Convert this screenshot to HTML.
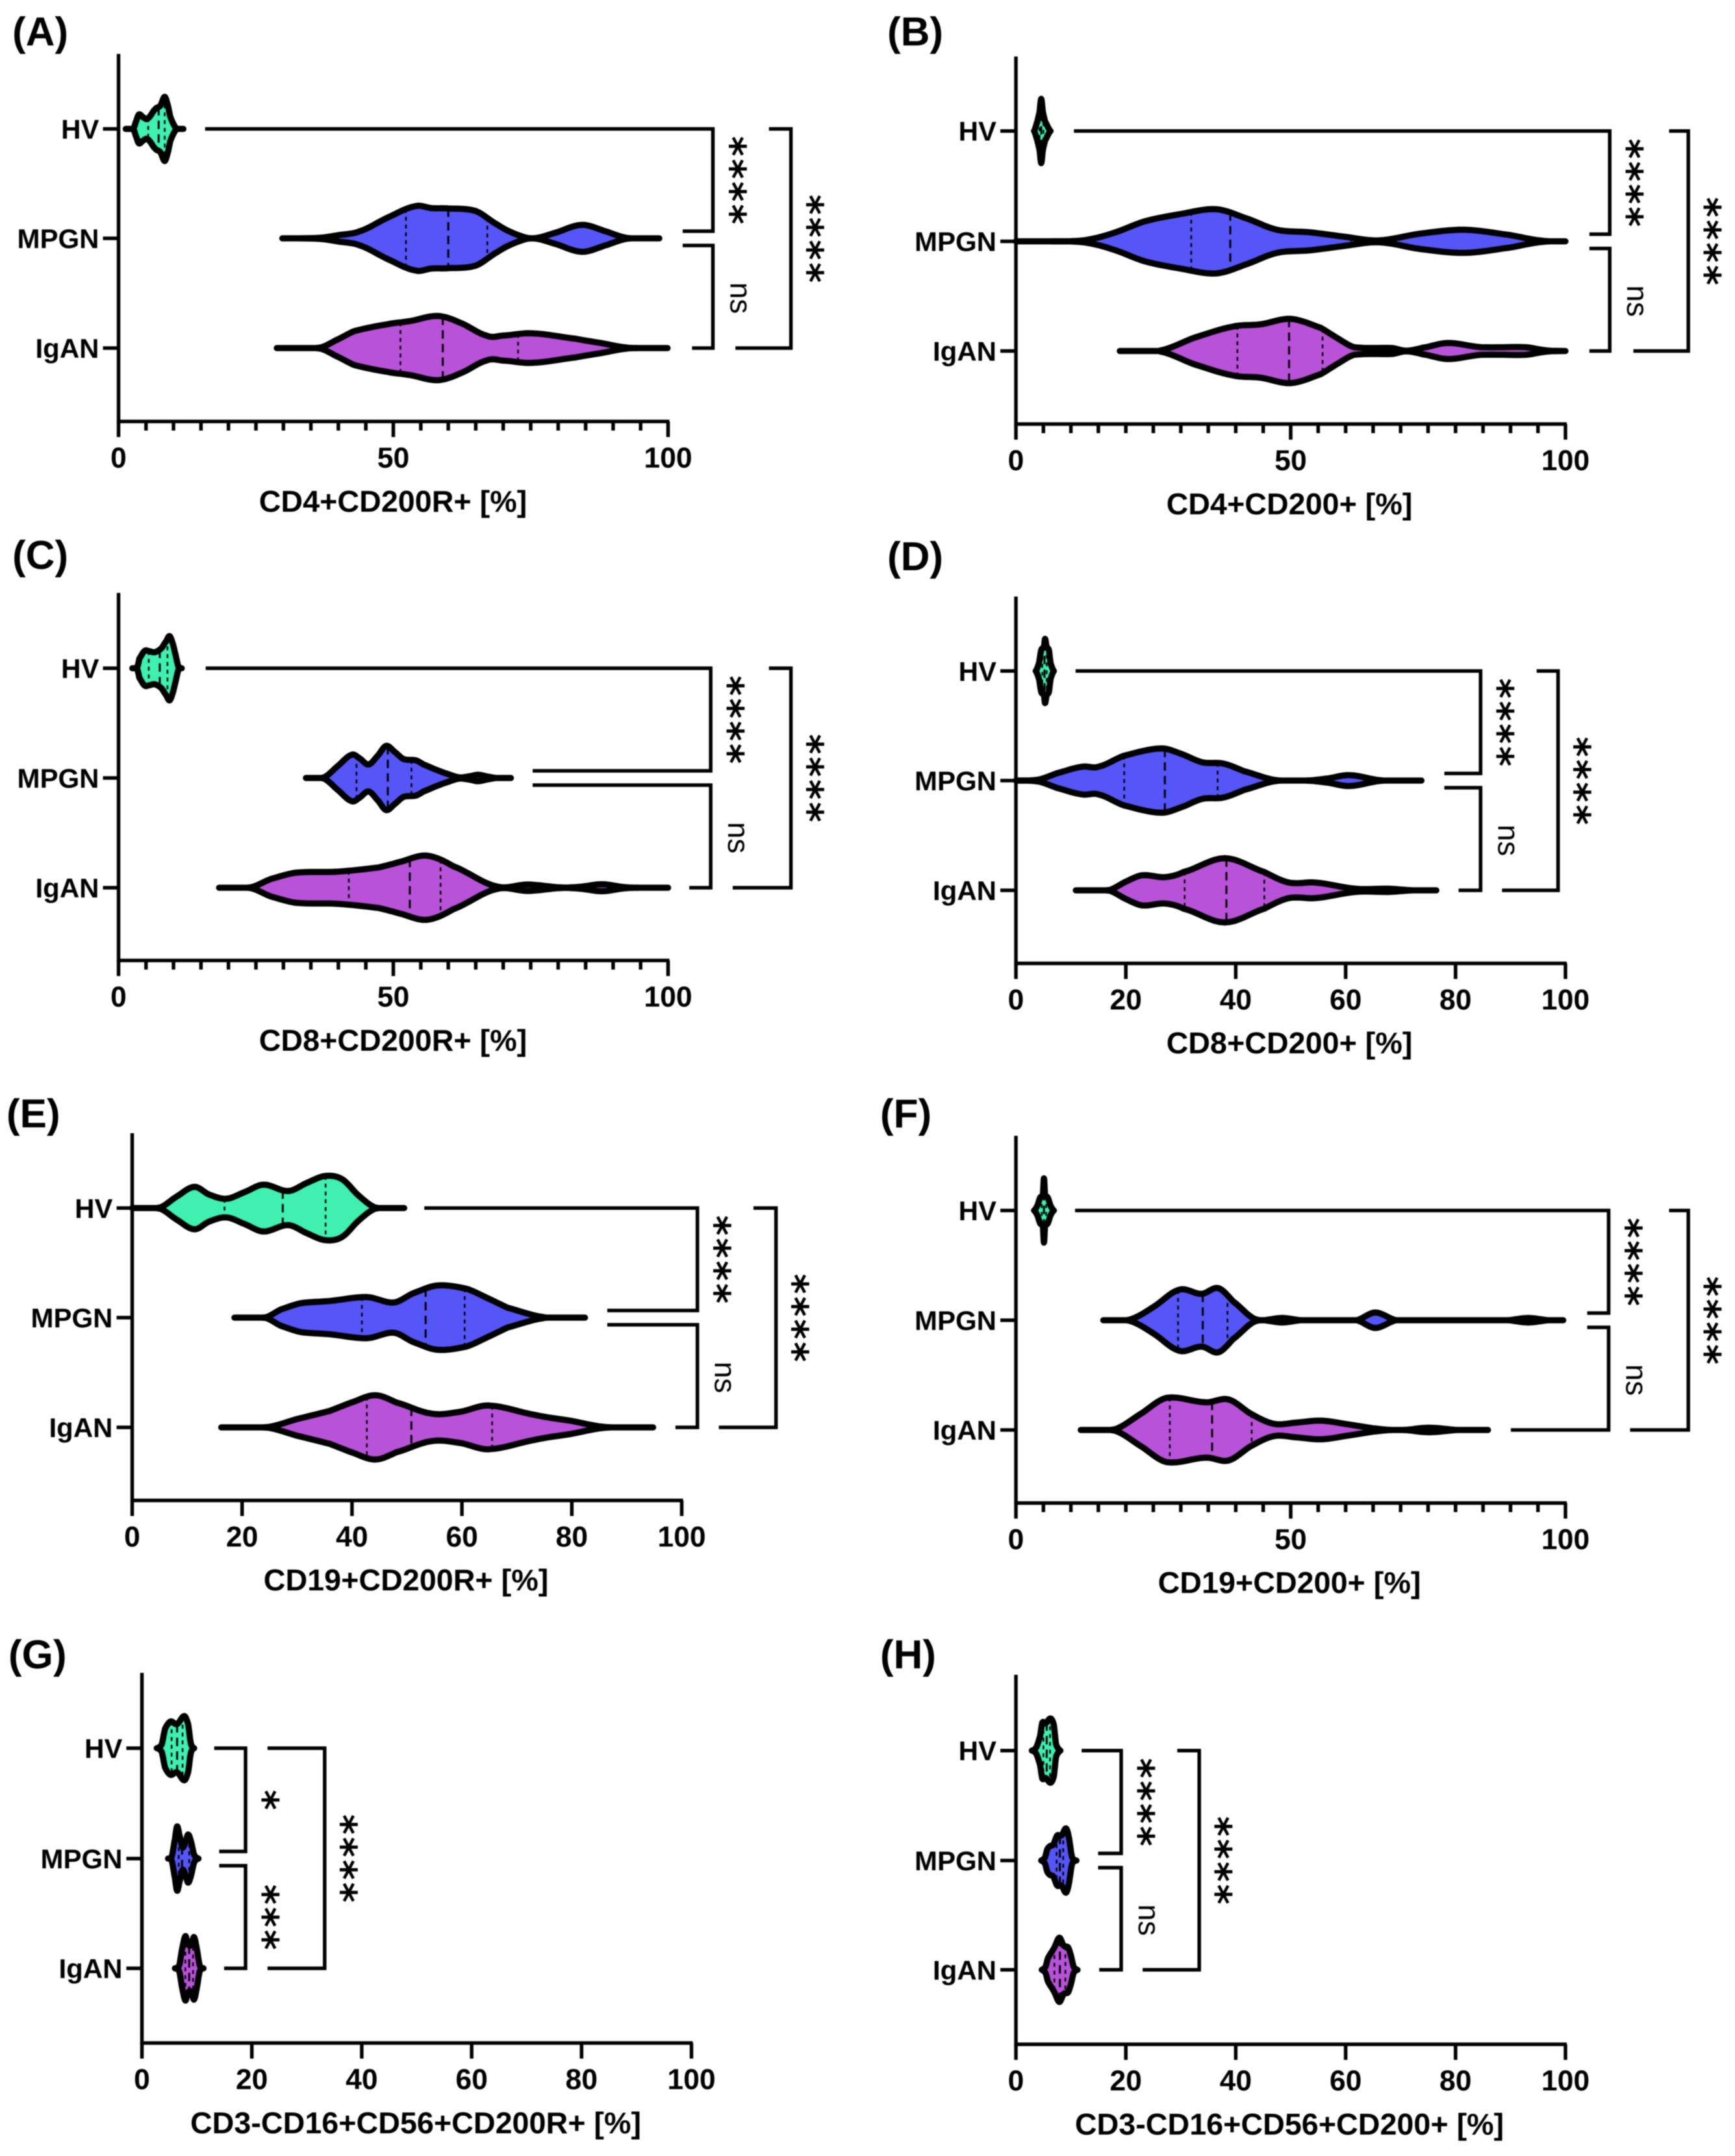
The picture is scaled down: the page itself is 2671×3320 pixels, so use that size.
<!DOCTYPE html>
<html lang="en">
<head>
<meta charset="utf-8">
<title>CD200 and CD200R violin plots</title>
<style>
html,body{margin:0;padding:0;background:#fff}
svg{display:block;filter:blur(0.7px)}
.letter{font:bold 62px "Liberation Sans",sans-serif;fill:#000}
.xtitle{font:bold 46.7px "Liberation Sans",sans-serif;fill:#000;text-anchor:middle}
</style>
</head>
<body>
<svg id="figure" xmlns="http://www.w3.org/2000/svg" width="2671" height="3320" viewBox="0 0 2671 3320">
<rect width="2671" height="3320" fill="#fff"/>
<text class="letter" x="19" y="70">(A)</text>
<text class="letter" x="1366" y="70">(B)</text>
<text class="letter" x="19" y="876">(C)</text>
<text class="letter" x="1366" y="878">(D)</text>
<text class="letter" x="10" y="1736">(E)</text>
<text class="letter" x="1355" y="1736">(F)</text>
<text class="letter" x="13" y="2569">(G)</text>
<text class="letter" x="1355" y="2569">(H)</text>
<text class="xtitle" x="605" y="788">CD4+CD200R+ [%]</text>
<text class="xtitle" x="1985" y="792">CD4+CD200+ [%]</text>
<text class="xtitle" x="605" y="1618">CD8+CD200R+ [%]</text>
<text class="xtitle" x="1985" y="1622">CD8+CD200+ [%]</text>
<text class="xtitle" x="625" y="2449">CD19+CD200R+ [%]</text>
<text class="xtitle" x="1985" y="2453">CD19+CD200+ [%]</text>
<text class="xtitle" x="640" y="3285">CD3-CD16+CD56+CD200R+ [%]</text>
<text class="xtitle" x="1985" y="3287">CD3-CD16+CD56+CD200+ [%]</text>
</svg>
<script>
const categories = ['HV', 'MPGN', 'IgAN'];
const ticksCoarse = [0, 50, 100];
const ticksFine = [0, 20, 40, 60, 80, 100];
const minorTicksCoarse = [5, 10, 15, 20, 25, 30, 35, 40, 45, 55, 60, 65, 70, 75, 80, 85, 90, 95];
const minorTicksNone = [];

const aHvX = [1.3, 2.75, 3.1, 3.7, 4.5, 5.3, 6.7, 7.6, 8.4, 9.0, 9.4, 10.0, 10.6, 11.8];
const aHvD = [0, .02, .2, .45, .36, .32, .62, .72, 1, .72, .39, .15, 0, 0];
const aHvQ = [5.4, 7.3, 8.4];
const aMpgnX = [29.8, 33, 36.8, 40, 43.9, 48.9, 54, 57, 60, 65, 69, 72, 75.2, 79, 84.3, 89, 92.3, 95, 98.4];
const aMpgnD = [0, 0, .02, .1, .22, .64, 1, .94, .93, .85, .42, .15, 0, .15, .42, .2, .02, 0, 0];
const aMpgnQ = [52.3, 60, 67.1];
const aIganX = [28.8, 33, 36.8, 39.5, 42.9, 48.9, 53, 58, 62, 67.1, 70, 75.2, 83.2, 88, 92.3, 95, 99.9];
const aIganD = [0, 0, .02, .24, .53, .74, .84, 1, .8, .38, .39, .46, .29, .15, .02, 0, 0];
const aIganQ = [51.3, 59, 72.7];

const bHvX = [3.3, 3.9, 4.3, 4.6, 4.9, 5.3, 6.3];
const bHvD = [0, .3, .6, 1, .6, .3, 0];
const bHvQ = [4.3, 4.6, 5.0];
const bMpgnX = [0, 6, 12.3, 17.4, 23.4, 30, 36.4, 41.5, 47.5, 53.5, 59.5, 66, 73.6, 81.6, 89.7, 95.7, 100];
const bMpgnD = [0, 0, .03, .24, .62, .85, 1, .74, .36, .28, .15, .03, .24, .36, .2, .02, 0];
const bMpgnQ = [31.9, 39, 61];
const bIganX = [18.9, 23, 26.4, 32.4, 39.5, 44.5, 50, 55.5, 58.5, 61.5, 68.6, 71, 74, 78.6, 84.6, 92.7, 96.5, 100];
const bIganD = [0, 0, .02, .41, .76, .83, 1, .72, .4, .12, .09, .01, .1, .25, .12, .12, .02, 0];
const bIganQ = [40.3, 49.7, 55.8];

const cHvX = [2.5, 3.4, 3.8, 4.75, 5.6, 6.6, 7.8, 8.7, 9.3, 9.9, 10.4, 10.9, 11.5];
const cHvD = [0, .03, .3, .54, .53, .5, .62, .85, 1, .75, .4, .05, 0];
const cHvQ = [5.5, 7.5, 8.9];
const cMpgnX = [34.1, 37.4, 39.8, 42.4, 43.8, 45.5, 47.2, 48.7, 50.2, 51.85, 54.1, 55.5, 57.9, 60, 62, 63.8, 65.4, 67, 68.8, 71.4];
const cMpgnD = [0, .02, .36, .72, .62, .42, .7, 1, .82, .59, .55, .42, .25, .12, .02, .05, .1, .05, 0, 0];
const cMpgnQ = [43.3, 49, 53.3];
const cIganX = [18.3, 24, 27.7, 32.3, 39.8, 47.3, 51.1, 56, 60.9, 68.8, 74.5, 80.5, 84, 88, 92, 94.8, 100];
const cIganD = [0, .01, .27, .47, .5, .63, .8, 1, .67, .04, .1, .01, .03, .11, .02, 0, 0];
const cIganQ = [41.9, 53, 58.6];

const dHvX = [3.6, 4.2, 4.6, 5.1, 5.3, 5.6, 6.0, 6.3, 6.9];
const dHvD = [0, .25, .65, .75, 1, .75, .65, .25, 0];
const dHvQ = [4.8, 5.2, 5.6];
const dMpgnX = [0, 4.1, 7.5, 12, 15, 19.6, 26.4, 30.1, 33.9, 37.7, 41.4, 47.1, 52.7, 56.5, 60.7, 66.3, 70, 73.8];
const dMpgnD = [0, .03, .23, .43, .43, .77, 1, .83, .57, .53, .3, .02, 0, .06, .17, .01, 0, 0];
const dMpgnQ = [19.7, 27.1, 36.7];
const dIganX = [10.9, 17, 20, 23, 27.1, 30.5, 38, 45.2, 49.7, 54.6, 61.8, 67.8, 72.3, 76.5];
const dIganD = [0, .01, .27, .47, .41, .57, 1, .57, .24, .24, .05, .05, 0, 0];
const dIganQ = [30.7, 38.3, 45.2];

const eHvX = [0, 5.1, 8, 11.3, 14, 17.1, 20.5, 23.9, 28.4, 32, 35.2, 38.2, 41.2, 44.2, 49.5];
const eHvD = [0, .02, .35, .66, .42, .29, .5, .73, .53, .8, 1, .9, .39, .02, 0];
const eHvQ = [16.8, 27.4, 35.2];
const eMpgnX = [18.6, 24.3, 27, 30.7, 36, 42.7, 47.6, 51, 55.5, 60.8, 64.5, 68.3, 74.7, 78.5, 82.4];
const eMpgnD = [0, .01, .25, .45, .52, .64, .47, .75, 1, .9, .62, .31, .02, 0, 0];
const eMpgnQ = [41.8, 53.4, 60.5];
const eIganX = [16.2, 24.7, 30, 35.9, 40, 44.2, 48, 54.4, 59.5, 64.9, 73.5, 80, 85.6, 90, 94.8];
const eIganD = [0, .01, .26, .51, .78, 1, .78, .43, .48, .68, .38, .2, .02, 0, 0];
const eIganQ = [42.7, 50.8, 65.5];

const fHvX = [3.3, 3.9, 4.4, 4.9, 5.1, 5.3, 5.8, 6.3, 6.9];
const fHvD = [0, .15, .4, .5, 1, .5, .4, .15, 0];
const fHvQ = [4.7, 5.1, 5.5];
const fMpgnX = [15.9, 20.7, 24.8, 29.7, 33.8, 36.8, 39.5, 43.6, 48.5, 51.9, 62, 65.4, 69.2, 89.5, 93.2, 97, 99.6];
const fMpgnD = [0, .02, .39, .95, .82, 1, .59, .03, .07, 0, 0, .24, 0, 0, .07, 0, 0];
const fMpgnQ = [29.5, 34, 38.5];
const fIganX = [11.8, 18, 22.6, 27.4, 34.6, 38.7, 42.9, 47, 51, 55.6, 61, 66.2, 70.3, 75.2, 80.5, 85.9];
const fIganD = [0, .02, .49, 1, .86, .95, .49, .19, .23, .29, .16, .03, 0, .07, 0, 0];
const fIganQ = [28, 35.7, 42.9];

const gHvX = [2.7, 3.6, 4.2, 5.2, 6.4, 7.7, 8.4, 8.9, 9.5];
const gHvD = [0, .12, .6, .83, .75, 1, .75, .15, 0];
const gHvQ = [5.4, 6.4, 7.4];
const gMpgnX = [4.75, 5.4, 6, 6.4, 6.8, 7.4, 8.0, 8.4, 8.9, 9.5, 10.3];
const gMpgnD = [0, .05, .6, 1, .75, .35, .55, .75, .55, .12, 0];
const gMpgnQ = [6.7, 7.3, 8.6];
const gIganX = [6, 6.8, 7.3, 7.9, 8.3, 8.7, 9.1, 9.5, 10, 10.5, 11.2];
const gIganD = [0, .1, .6, 1, .8, .7, .8, .97, .6, .1, 0];
const gIganQ = [7.9, 8.6, 9.3];

const hHvX = [2.9, 3.7, 4.4, 4.8, 5.4, 6.3, 6.9, 7.3, 8.1];
const hHvD = [0, .1, .45, .87, .85, 1, .8, .2, 0];
const hHvQ = [5, 5.6, 6.2];
const hMpgnX = [4.6, 5.3, 5.7, 6.2, 6.8, 7.5, 8.3, 9.1, 9.6, 10.2, 11];
const hMpgnD = [0, .1, .35, .45, .5, .78, .78, 1, .75, .12, 0];
const hMpgnQ = [7.4, 8.0, 8.6];
const hIganX = [4.7, 5.4, 5.8, 6.2, 7, 7.9, 8.7, 9.5, 10, 10.5, 11.2];
const hIganD = [0, .1, .35, .48, .7, 1, .75, .7, .45, .1, 0];
const hIganQ = [7.0, 8.0, 9.0];

const significanceA = ['****', 'ns', '****'];
const significanceG = ['*', '***', '****'];
const significanceH = ['****', 'ns', '****'];

const groupFill = ['#40F0B0', '#5555F8', '#B852D8'];
const svgNS = 'http://www.w3.org/2000/svg';
const figure = document.getElementById('figure');
const UNIT = 8.46, HALF = 49.5, LW = 5.5, BRACKET_SHIFT = 3;

const panels = [
  {id:'a', axisX:182.5, top:83, base:649, rows:[198.5,367,536], major:ticksCoarse, minor:minorTicksCoarse, sig:significanceA,
   violins:[[aHvX,aHvD,aHvQ],[aMpgnX,aMpgnD,aMpgnQ],[aIganX,aIganD,aIganQ]],
   br:{v1:107.8,hv:15.4,m:102.3,ig:104,v2:122,ohv:118,oig:111.9}},
  {id:'b', axisX:1564, top:87, base:653, rows:[201.7,371.6,540.5], major:ticksCoarse, minor:minorTicksCoarse, sig:significanceA,
   violins:[[bHvX,bHvD,bHvQ],[bMpgnX,bMpgnD,bMpgnQ],[bIganX,bIganD,bIganQ]],
   br:{v1:107.7,hv:10.2,m:104,ig:104,v2:122,ohv:118.5,oig:112}},
  {id:'c', axisX:182.5, top:913, base:1479, rows:[1029,1198,1367], major:ticksCoarse, minor:minorTicksCoarse, sig:significanceA,
   violins:[[cHvX,cHvD,cHvQ],[cMpgnX,cMpgnD,cMpgnQ],[cIganX,cIganD,cIganQ]],
   br:{v1:107.4,hv:15.5,m:75,ig:103.5,v2:122,ohv:118,oig:111.4}},
  {id:'d', axisX:1564, top:918.6, base:1483.5, rows:[1033.3,1202,1371], major:ticksFine, minor:minorTicksNone, sig:significanceA,
   violins:[[dHvX,dHvD,dHvQ],[dMpgnX,dMpgnD,dMpgnQ],[dIganX,dIganD,dIganQ]],
   br:{v1:84.2,hv:10.5,m:77.6,ig:80.2,v2:98.3,ohv:94.4,oig:88.1}},
  {id:'e', axisX:203.5, top:1745, base:2310.5, rows:[1860.3,2029,2198], major:ticksFine, minor:minorTicksNone, sig:significanceA,
   violins:[[eHvX,eHvD,eHvQ],[eMpgnX,eMpgnD,eMpgnQ],[eIganX,eIganD,eIganQ]],
   br:{v1:102.5,hv:52.8,m:86.1,ig:98.5,v2:116.8,ohv:112.7,oig:106.4}},
  {id:'f', axisX:1564, top:1749, base:2314.5, rows:[1864,2033,2202], major:ticksCoarse, minor:minorTicksCoarse, sig:significanceA,
   violins:[[fHvX,fHvD,fHvQ],[fMpgnX,fMpgnD,fMpgnQ],[fIganX,fIganD,fIganQ]],
   br:{v1:107.5,hv:10.4,m:103.6,ig:89.7,v2:122,ohv:118.5,oig:111.4}},
  {id:'g', axisX:218.5, top:2576, base:3146, rows:[2692,2862,3031], major:ticksFine, minor:minorTicksNone, sig:significanceG,
   violins:[[gHvX,gHvD,gHvQ],[gMpgnX,gMpgnD,gMpgnQ],[gIganX,gIganD,gIganQ]],
   br:{v1:18.5,hv:12.8,m:13.7,ig:14.6,v2:32.9,ohv:22.5,oig:22.5}},
  {id:'h', axisX:1564, top:2579, base:3148, rows:[2695.7,2865,3033.3], major:ticksFine, minor:minorTicksNone, sig:significanceH,
   violins:[[hHvX,hHvD,hHvQ],[hMpgnX,hMpgnD,hMpgnQ],[hIganX,hIganD,hIganQ]],
   br:{v1:18.8,hv:11.6,m:14.6,ig:14.8,v2:33,ohv:29,oig:22.7}}
];

function make(tag, attrs, parent, text) {
  const el = document.createElementNS(svgNS, tag);
  for (const k in attrs) el.setAttribute(k, attrs[k]);
  if (text !== undefined) el.textContent = text;
  parent.appendChild(el);
  return el;
}

function sampleProfile(xs, ds) {
  const out = [];
  const n = xs.length;
  for (let i = 0; i < n - 1; i++) {
    const p0 = ds[Math.max(i - 1, 0)], p1 = ds[i], p2 = ds[i + 1], p3 = ds[Math.min(i + 2, n - 1)];
    for (let k = 0; k < 8; k++) {
      const t = k / 8;
      const d = 0.5 * (2 * p1 + (p2 - p0) * t + (2 * p0 - 5 * p1 + 4 * p2 - p3) * t * t + (-p0 + 3 * p1 - 3 * p2 + p3) * t * t * t);
      out.push([xs[i] + (xs[i + 1] - xs[i]) * t, Math.max(0, d)]);
    }
  }
  out.push([xs[n - 1], ds[n - 1]]);
  return out;
}

function densityAt(profile, v) {
  for (let i = 0; i < profile.length - 1; i++) {
    if (v >= profile[i][0] && v <= profile[i + 1][0]) {
      const f = (v - profile[i][0]) / ((profile[i + 1][0] - profile[i][0]) || 1);
      return profile[i][1] + (profile[i + 1][1] - profile[i][1]) * f;
    }
  }
  return 0;
}

function drawStars(g, label, cx, cy, name) {
  const isNs = label === 'ns';
  const fs = isNs ? 46 : 60;
  const bx = cx - (isNs ? 0.26 : 0.52) * fs;
  const by = cy + 2;
  const t = make('text', {
    x: bx, y: by, 'text-anchor': 'middle',
    'font-family': isNs ? '"Liberation Sans", sans-serif' : '"DejaVu Sans", sans-serif',
    'font-weight': isNs ? 'normal' : 'bold',
    'font-size': fs,
    'letter-spacing': isNs ? 0 : 3.5,
    fill: '#000',
    transform: 'rotate(90 ' + bx + ' ' + by + ')'
  }, g, label);
  
  
}

panels.forEach(function (p) {
  const xScale = function (v) { return p.axisX + v * UNIT; };
  const xBracket = function (v) { return xScale(v) + BRACKET_SHIFT; };
  const densityScale = function (d) { return d * HALF; };
  const g = make('g', {}, figure);
  
  

  const yAxis = make('line', {x1:p.axisX, x2:p.axisX, y1:p.top, y2:p.base + 2, stroke:'#000', 'stroke-width':LW}, g);
  
  
  const xAxis = make('line', {x1:p.axisX - 2, x2:xScale(100) + 2, y1:p.base, y2:p.base, stroke:'#000', 'stroke-width':LW}, g);
  
  

  p.major.forEach(function (v) {
    const tick = make('line', {x1:xScale(v), x2:xScale(v), y1:p.base, y2:p.base + 24, stroke:'#000', 'stroke-width':LW}, g);
    
    
    const lab = make('text', {x:xScale(v), y:p.base + 71, 'text-anchor':'middle', 'font-family':'"Liberation Sans", sans-serif', 'font-weight':'bold', 'font-size':44.5}, g, String(v));
    
    
  });
  p.minor.forEach(function (v) {
    const tick = make('line', {x1:xScale(v), x2:xScale(v), y1:p.base, y2:p.base + 14, stroke:'#000', 'stroke-width':LW}, g);
    
    
  });

  categories.forEach(function (name, i) {
    const y = p.rows[i];
    const tick = make('line', {x1:p.axisX - 24, x2:p.axisX, y1:y, y2:y, stroke:'#000', 'stroke-width':LW}, g);
    
    
    const lab = make('text', {x:p.axisX - 30, y:y + 15, 'text-anchor':'end', 'font-family':'"Liberation Sans", sans-serif', 'font-weight':'bold', 'font-size':42}, g, name);
    
    

    const v = p.violins[i];
    const profile = sampleProfile(v[0], v[1]);
    let path = '';
    profile.forEach(function (pt, j) {
      path += (j ? 'L' : 'M') + xScale(pt[0]).toFixed(1) + ' ' + (y - densityScale(pt[1])).toFixed(1);
    });
    for (let j = profile.length - 1; j >= 0; j--) {
      path += 'L' + xScale(profile[j][0]).toFixed(1) + ' ' + (y + densityScale(profile[j][1])).toFixed(1);
    }
    path += 'Z';
    const violin = make('path', {d:path, fill:groupFill[i], stroke:'none'}, g);
    
    

    v[2].forEach(function (q, k) {
      const h = densityScale(densityAt(profile, q));
      const ql = make('line', {
        x1:xScale(q), x2:xScale(q), y1:y - h, y2:y + h, stroke:'#000',
        'stroke-width': k === 1 ? 3 : 2.5,
        'stroke-dasharray': k === 1 ? '13 8' : '6 6'
      }, g);
      
      
    });

    const outline = make('path', {d:path, fill:'none', stroke:'#000', 'stroke-width':9.5, 'stroke-linejoin':'round', 'stroke-linecap':'round'}, g);
    
    
  });

  const b = p.br, r = p.rows;
  const mTop = r[1] - 11, mBot = r[1] + 11;
  const bracket1 = make('path', {d:'M' + xBracket(b.hv) + ' ' + r[0] + 'H' + xBracket(b.v1) + 'V' + mTop + 'H' + xBracket(b.m), fill:'none', stroke:'#000', 'stroke-width':LW}, g);
  
  
  const bracket2 = make('path', {d:'M' + xBracket(b.m) + ' ' + mBot + 'H' + xBracket(b.v1) + 'V' + r[2] + 'H' + xBracket(b.ig), fill:'none', stroke:'#000', 'stroke-width':LW}, g);
  
  
  const bracket3 = make('path', {d:'M' + xBracket(b.ohv) + ' ' + r[0] + 'H' + xBracket(b.v2) + 'V' + r[2] + 'H' + xBracket(b.oig), fill:'none', stroke:'#000', 'stroke-width':LW}, g);
  
  

  drawStars(g, p.sig[0], xBracket(b.v1) + 39, (r[0] + mTop) / 2, 'significance-hv-mpgn');
  drawStars(g, p.sig[1], xBracket(b.v1) + 39, (mBot + r[2]) / 2, 'significance-mpgn-igan');
  drawStars(g, p.sig[2], xBracket(b.v2) + 38, (r[0] + r[2]) / 2, 'significance-hv-igan');
});
</script>
</body>
</html>
